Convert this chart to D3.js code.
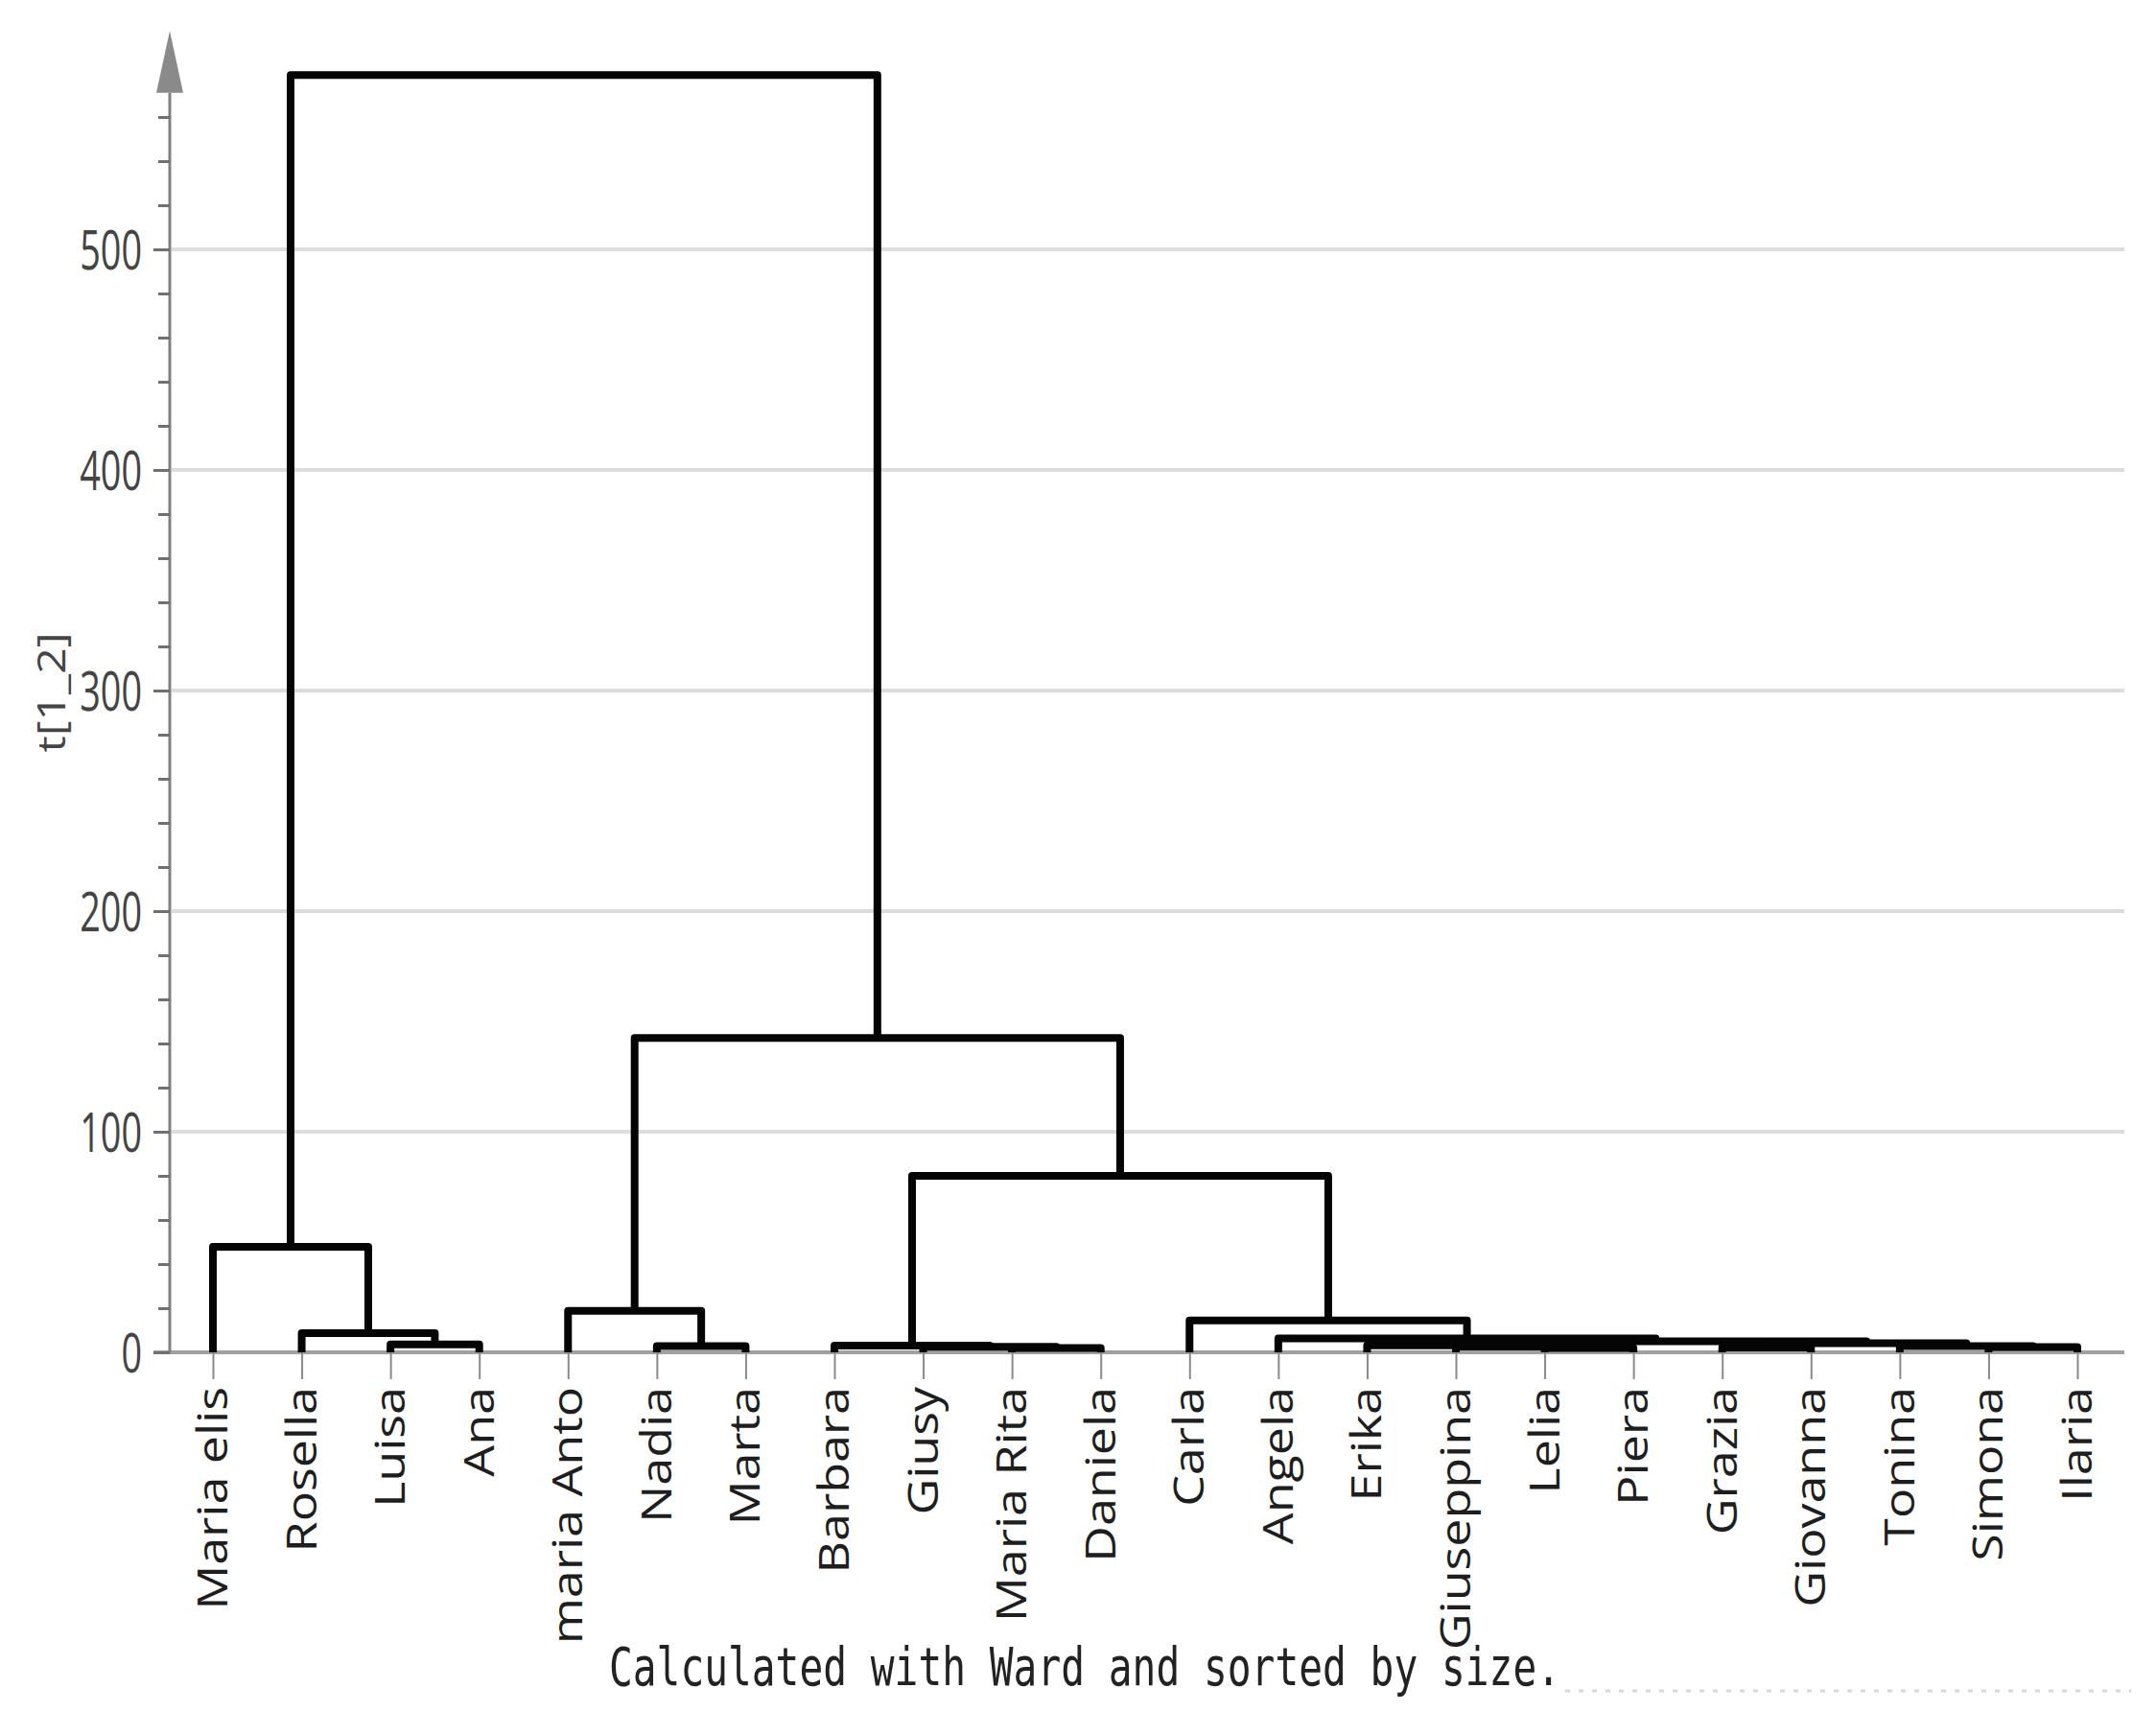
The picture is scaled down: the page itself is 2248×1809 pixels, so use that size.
<!DOCTYPE html>
<html>
<head>
<meta charset="utf-8">
<script src="https://cdn.jsdelivr.net/npm/d3@7"></script>
<style>
  html, body { margin: 0; padding: 0; background: #fff; }
  svg { display: block; }
</style>
</head>
<body>
<svg id="chart" width="2248" height="1809"></svg>
<script>
// ---------------- DATA ----------------
const leaves = ["Maria elis","Rosella","Luisa","Ana","maria Anto","Nadia","Marta","Barbara","Giusy","Maria Rita","Daniela","Carla","Angela","Erika","Giuseppina","Lelia","Piera","Grazia","Giovanna","Tonina","Simona","Ilaria"];

// Ward merges, in order. "#k" refers to the k-th merge (1-based).
const mergeLeft   = ["Luisa","Rosella","Maria elis","Nadia","maria Anto","Maria Rita","Giusy","Barbara","Lelia","Giuseppina","Erika","Grazia","Simona","Tonina","#12","#11","Angela","Carla","#8","#5","#3"];
const mergeRight  = ["Ana","#1","#2","Marta","#4","Daniela","#6","#7","Piera","#9","#10","Giovanna","Ilaria","#13","#14","#15","#16","#17","#18","#19","#20"];
const mergeHeight = [3.6, 8.7, 47.8, 2.8, 18.8, 2.0, 2.5, 3.0, 2.0, 2.6, 3.2, 2.2, 2.4, 2.8, 4.1, 5.0, 6.3, 14.5, 80, 142.5, 579];

const yMajorTicks = [0, 100, 200, 300, 400, 500];
const yMinorTicks = [20,40,60,80,120,140,160,180,220,240,260,280,320,340,360,380,420,440,460,480,520,540,560];
const yAxisTitle = "t[1_2]";
const footnote = "Calculated with Ward and sorted by size.";

// ---------------- BUILD TREE ----------------
const mergeNodes = mergeHeight.map((h, i) => ({ id: "#" + (i + 1), h }));
function resolve(ref) {
  if (ref.startsWith("#")) return mergeNodes[+ref.slice(1) - 1];
  return { id: ref, name: ref, h: 0 };
}
mergeNodes.forEach((n, i) => { n.children = [resolve(mergeLeft[i]), resolve(mergeRight[i])]; });
const rootData = mergeNodes[mergeNodes.length - 1];
const root = d3.hierarchy(rootData, d => d.children);

// ---------------- SCALES ----------------
const svg = d3.select("#chart");
const x = d3.scalePoint().domain(leaves).range([222, 2166]);
const y = d3.scaleLinear().domain([0, 500]).range([1410, 260]);
const axisX = 177, plotRight = 2215;

root.eachAfter(n => {
  if (!n.children) n.x = x(n.data.name);
  else n.x = d3.mean(n.children, c => c.x);
});

svg.append("rect").attr("width", 2248).attr("height", 1809).attr("fill", "#fff");

// grid lines
svg.append("g").selectAll("line").data(yMajorTicks.filter(d => d > 0)).join("line")
  .attr("x1", axisX + 2).attr("x2", plotRight)
  .attr("y1", d => y(d)).attr("y2", d => y(d))
  .attr("stroke", "#dcdcdc").attr("stroke-width", 4);

// x baseline
svg.append("line").attr("x1", 160).attr("x2", plotRight)
  .attr("y1", y(0)).attr("y2", y(0))
  .attr("stroke", "#a0a0a0").attr("stroke-width", 4);

// x ticks
const xAxis = d3.axisBottom(x).tickSize(28).tickFormat("");
const gx = svg.append("g").attr("transform", `translate(0,${y(0)})`).call(xAxis);
gx.select(".domain").remove();
gx.selectAll(".tick line").attr("stroke", "#8a8a8a").attr("stroke-width", 2);

// leaf labels
svg.append("g").selectAll("text").data(leaves).join("text")
  .attr("transform", d => `translate(${x(d) + 15},1446) scale(0.83,1) rotate(-90)`)
  .attr("text-anchor", "end")
  .attr("font-family", "'Open Sans', sans-serif")
  .attr("font-size", 52)
  .attr("fill", "#1e1e1e")
  .text(d => d);

// y axis line + arrow
svg.append("line").attr("x1", axisX).attr("x2", axisX)
  .attr("y1", y(0)).attr("y2", y(571))
  .attr("stroke", "#808080").attr("stroke-width", 3);
svg.append("path")
  .attr("d", `M${axisX - 14},${y(571)} L${axisX + 14},${y(571)} L${axisX},${y(599)} Z`)
  .attr("fill", "#8a8a8a");

// minor ticks
const gMinor = svg.append("g").attr("transform", `translate(${axisX},0)`)
  .call(d3.axisLeft(y).tickValues(yMinorTicks).tickSize(12).tickFormat(""));
gMinor.select(".domain").remove();
gMinor.selectAll(".tick line").attr("stroke", "#707070").attr("stroke-width", 3);

// major ticks + labels
const gMajor = svg.append("g").attr("transform", `translate(${axisX},0)`)
  .call(d3.axisLeft(y).tickValues(yMajorTicks).tickSize(17).tickFormat(d3.format("d")));
gMajor.select(".domain").remove();
gMajor.selectAll(".tick line").attr("stroke", "#707070").attr("stroke-width", 3);
gMajor.selectAll(".tick text")
  .attr("x", 0).attr("dy", "0.36em")
  .attr("transform", "translate(-29,0) scale(0.675,1)")
  .attr("text-anchor", "end")
  .attr("font-family", "'Open Sans', sans-serif")
  .attr("font-size", 56)
  .attr("fill", "#444");

// y axis title
svg.append("text")
  .attr("transform", "translate(68,722) rotate(-90)")
  .attr("text-anchor", "middle")
  .attr("font-family", "'Open Sans', sans-serif")
  .attr("font-size", 40)
  .attr("textLength", 125).attr("lengthAdjust", "spacingAndGlyphs")
  .attr("fill", "#444")
  .text(yAxisTitle);

// dendrogram links
const line = d3.line();
svg.append("g").selectAll("path").data(root.descendants().filter(n => n.children)).join("path")
  .attr("d", n => {
    const [l, r] = n.children;
    return line([[l.x, y(l.data.h)], [l.x, y(n.data.h)], [r.x, y(n.data.h)], [r.x, y(r.data.h)]]);
  })
  .attr("fill", "none")
  .attr("stroke", "#050505")
  .attr("stroke-width", 8)
  .attr("stroke-linejoin", "round");

// footnote
svg.append("text")
  .attr("x", 635).attr("y", 1757)
  .attr("font-family", "'DejaVu Sans Mono', monospace")
  .attr("font-size", 56)
  .attr("textLength", 992).attr("lengthAdjust", "spacingAndGlyphs")
  .attr("fill", "#222")
  .text(footnote);
svg.append("line").attr("x1", 1632).attr("x2", 2222).attr("y1", 1763).attr("y2", 1763)
  .attr("stroke", "#d8d8d8").attr("stroke-width", 3).attr("stroke-dasharray", "5,9");
</script>
</body>
</html>
